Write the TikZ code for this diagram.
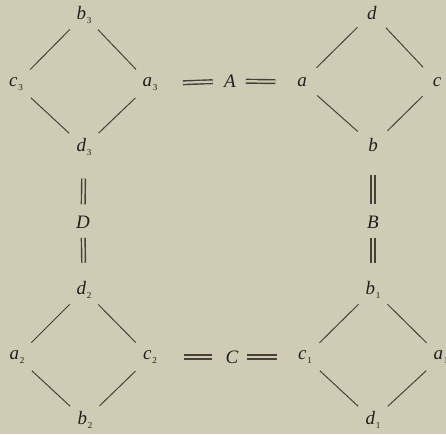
\documentclass[tikz,border=0pt]{standalone}
\usepackage{fontspec}
\setmainfont{Liberation Serif}
\usetikzlibrary{positioning}
\definecolor{paper}{RGB}{207,204,181}
\definecolor{ink}{RGB}{35,30,30}
\definecolor{rule}{RGB}{72,62,60}
\newcommand{\elem}[2]{\textit{#1}\kern0.6pt\raisebox{-0.45ex}{\fontsize{6.5}{7}\selectfont #2}}

\begin{document}
\begin{tikzpicture}[
            x=0.025cm, y=-0.025cm,
            elt/.style={circle, minimum size=28.5pt, inner sep=0pt, text=ink, font=\fontsize{13.5}{15}\selectfont},
            lbl/.style={inner sep=2pt, text=ink, font=\fontsize{13.5}{15}\selectfont\itshape},
            edge/.style={draw=rule, line width=0.7pt},
            eq/.style={draw=rule, line width=1pt, double=paper, double distance=1.6pt}
        ]
            \fill[paper] (0,0) rectangle (446,434);
            \useasboundingbox (0,0) rectangle (446,434);

            \node[elt] (b3) at (84,15) {\elem{b}{3}};
            \node[elt] (c3) at (16,84) {\elem{c}{3}};
            \node[elt] (a3) at (150,84) {\elem{a}{3}};
            \node[elt] (d3) at (84,147) {\elem{d}{3}};

            \node[elt] (d) at (372,13) {\textit{d}};
            \node[elt] (a) at (302,82) {\textit{a}};
            \node[elt] (c) at (437,82) {\textit{c}};
            \node[elt] (b) at (373,145) {\textit{b}};

            \node[elt] (d2) at (84,290) {\elem{d}{2}};
            \node[elt] (a2) at (17,357) {\elem{a}{2}};
            \node[elt] (c2) at (150,357) {\elem{c}{2}};
            \node[elt] (b2) at (85,420) {\elem{b}{2}};

            \node[elt] (b1) at (373,290) {\elem{b}{1}};
            \node[elt] (c1) at (305,357) {\elem{c}{1}};
            \node[elt] (a1) at (441,357) {\elem{a}{1}};
            \node[elt] (d1) at (373,420) {\elem{d}{1}};

            \node[lbl] (A) at (230,81) {A};
            \node[lbl] (B) at (373,222) {B};
            \node[lbl] (C) at (232,357) {C};
            \node[lbl] (D) at (83,222) {D};

            \draw[edge] (b3) -- (c3);
            \draw[edge] (b3) -- (a3);
            \draw[edge] (c3) -- (d3);
            \draw[edge] (a3) -- (d3);

            \draw[edge] (d) -- (a);
            \draw[edge] (d) -- (c);
            \draw[edge] (a) -- (b);
            \draw[edge] (c) -- (b);

            \draw[edge] (d2) -- (a2);
            \draw[edge] (d2) -- (c2);
            \draw[edge] (a2) -- (b2);
            \draw[edge] (c2) -- (b2);

            \draw[edge] (b1) -- (c1);
            \draw[edge] (b1) -- (a1);
            \draw[edge] (c1) -- (d1);
            \draw[edge] (a1) -- (d1);

            \draw[eq, shorten <=9pt, shorten >=6pt] (a3) -- (A);
            \draw[eq, shorten <=5pt, shorten >=4.5pt] (A) -- (a);
            \draw[eq, shorten <=10pt, shorten >=7.5pt] (c2) -- (C);
            \draw[eq, shorten <=4pt, shorten >=5.7pt] (C) -- (c1);

            \draw[eq, shorten <=8pt, shorten >=6pt] (d3) -- (D);
            \draw[eq, shorten <=4.6pt, shorten >=5pt] (D) -- (d2);
            \draw[eq, shorten <=7pt, shorten >=6pt] (b) -- (B);
            \draw[eq, shorten <=4.6pt, shorten >=5pt] (B) -- (b1);
        \end{tikzpicture}
\end{document}
